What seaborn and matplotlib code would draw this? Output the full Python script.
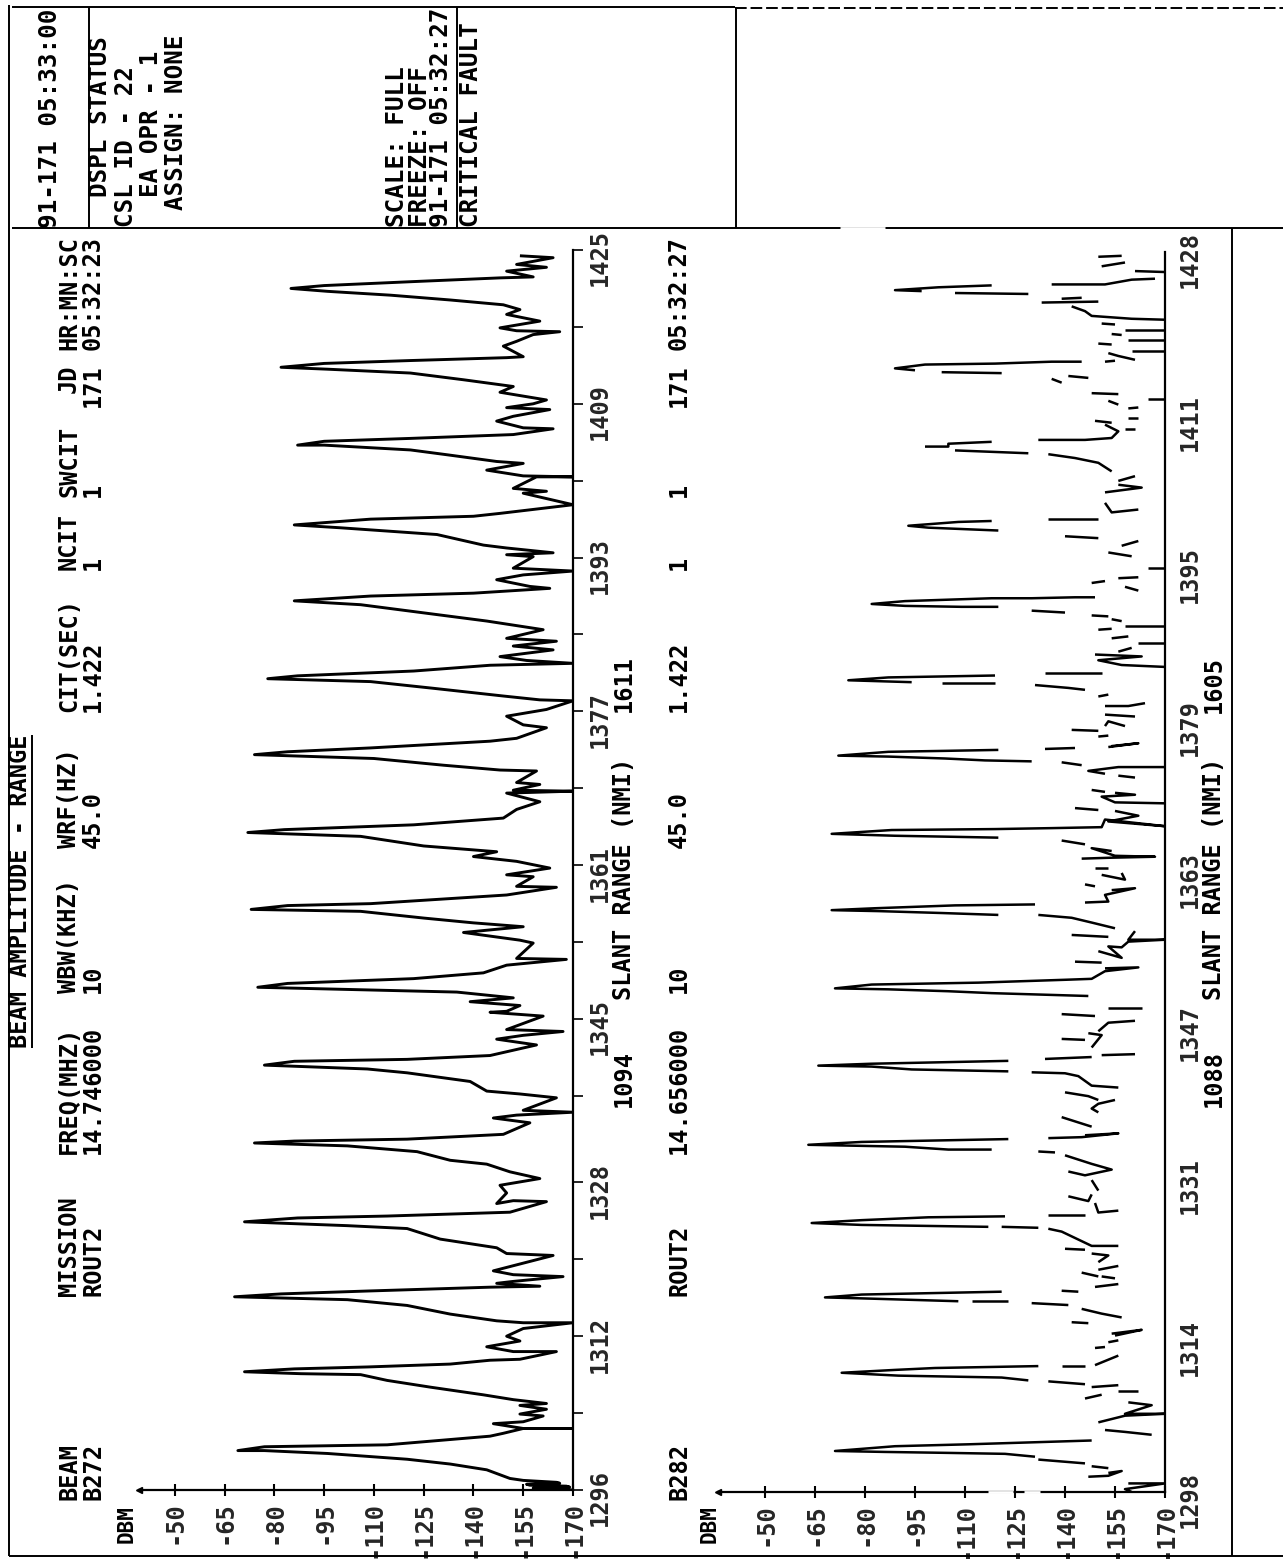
import numpy as np
import pandas as pd
import matplotlib
matplotlib.use("Agg")
import matplotlib.pyplot as plt
from matplotlib.transforms import ScaledTranslation
import seaborn as sns

nan = float("nan")

# ---------- data ----------
range1 = [
 1296.0,1296.1,1296.2,1296.3,1296.4,1296.5,1296.6,1296.7,1296.8,1297.0,1297.2,1298.1,1298.7,1299.2,1299.8,1300.1,1300.1,
 1300.5,1300.7,1301.6,1301.9,1302.4,1302.4,1302.4,1302.9,1303.1,1303.7,1303.9,1304.4,1304.8,1305.0,1305.4,1305.9,1306.7,1307.4,1308.0,1308.1,1308.3,
 1308.6,1308.8,1309.1,1309.5,1309.6,1310.4,1310.4,1310.9,1311.5,1312.0,1312.8,1313.4,1313.4,1313.6,1314.3,1315.2,1315.8,1316.1,
 1316.4,1316.7,1317.1,1317.2,1317.5,1317.7,1318.2,1318.4,1318.8,1320.4,1320.6,1321.2,1322.1,1323.2,1323.5,1323.9,
 1324.3,1324.5,1324.9,1326.0,1326.1,1325.8,1326.9,1327.7,1328.4,1329.1,1329.9,1330.3,1331.2,1331.8,1332.1,
 1332.3,1332.5,1333.0,1334.2,1334.7,1335.0,1335.3,1335.5,1336.8,1337.2,1337.5,1338.5,1339.4,1339.8,1340.2,
 1340.6,1340.8,1341.2,1342.3,1342.9,1343.3,1343.7,1343.9,1345.3,1345.7,1345.8,1346.4,1346.8,1347.2,1347.8,1348.3,
 1348.7,1349.2,1349.8,1350.6,1351.2,1351.3,1352.9,1353.2,1354.0,1354.6,1355.0,1355.5,1356.2,1356.4,
 1356.8,1357.0,1357.9,1358.7,1358.8,1359.8,1360.0,1360.7,1361.4,1361.9,1362.4,1363.0,1364.0,1364.4,
 1364.7,1365.2,1365.9,1366.8,1367.6,1368.5,1368.7,1368.8,1369.4,1369.6,1370.8,1370.9,1371.4,1372.1,1372.5,
 1372.8,1373.2,1373.9,1374.2,1375.3,1375.6,1376.5,1377.2,1378.1,1378.2,1378.6,1379.4,1380.1,1380.4,
 1380.7,1381.2,1381.8,1382.0,1382.3,1382.7,1383.4,1383.8,1384.3,1384.6,1385.5,1386.4,1387.2,1388.1,1388.5,
 1389.0,1389.3,1389.8,1390.0,1390.7,1391.2,1391.6,1391.9,1393.1,1393.3,1393.5,1394.0,1394.3,1395.4,1396.1,1396.4,
 1397.0,1397.3,1397.6,1398.5,1399.7,1399.9,1400.2,1401.4,1401.4,1401.5,1402.1,1402.8,1403.0,1403.7,1404.2,1404.7,1404.7,
 1405.1,1405.4,1405.8,1406.4,1406.5,1407.2,1407.7,1408.4,1408.6,1409.0,1409.4,1410.2,1410.8,1411.5,1412.2,1412.6,1412.8,
 1413.2,1413.5,1413.8,1413.9,1415.0,1415.5,1416.2,1416.5,1416.6,1416.9,1417.6,1418.3,1418.8,1419.3,1419.8,1420.3,1420.7,1421.0,
 1421.3,1421.7,1422.1,1422.2,1422.8,1423.2,1423.5,1424.2,1424.4,
]
dbm1 = [
 -170,-160,-158,-169,-168,-157,-156,-166,-165,-155,-151,-144,-133,-120,-96,-77,-69,
 -77,-114,-145,-149,-155,-170,-155,-146,-155,-161,-154,-162,-154,-162,-152,-143,-127,-114,-106,-88,-71,
 -86,-108,-133,-145,-154,-165,-152,-144,-154,-150,-155,-170,-155,-147,-133,-120,-102,-68,
 -82,-108,-145,-160,-147,-152,-167,-152,-146,-164,-150,-147,-130,-120,-102,-71,
 -87,-114,-151,-162,-152,-147,-150,-148,-160,-151,-144,-133,-123,-102,-74,
 -86,-120,-149,-157,-146,-153,-170,-155,-165,-154,-144,-139,-120,-108,-77,
 -86,-120,-145,-159,-147,-155,-167,-150,-161,-145,-150,-154,-139,-152,-135,-75,
 -84,-122,-143,-150,-168,-153,-158,-154,-137,-155,-140,-125,-106,-73,
 -84,-109,-150,-165,-153,-158,-150,-163,-153,-140,-147,-125,-106,-72,
 -83,-122,-149,-153,-160,-150,-170,-152,-160,-153,-159,-148,-131,-110,-74,
 -84,-109,-145,-153,-162,-155,-150,-162,-170,-160,-149,-128,-109,-78,
 -87,-122,-145,-170,-156,-148,-164,-152,-165,-150,-161,-144,-126,-106,-86,
 -109,-140,-163,-157,-147,-155,-170,-152,-158,-150,-164,-150,-143,-129,-100,-86,
 -109,-140,-148,-170,-155,-162,-152,-159,-170,-155,-144,-155,-147,-132,-121,-95,-87,
 -95,-121,-152,-164,-155,-147,-152,-163,-150,-158,-162,-148,-152,-137,-121,-96,-82,
 -95,-121,-150,-155,-149,-153,-158,-166,-153,-148,-160,-150,-154,-149,-133,-115,-96,-85,
 -95,-121,-148,-158,-150,-162,-153,-164,-154,
]

range2 = [
 1298.0,1298.3,1298.9,1298.9,nan,
 1299.6,1299.7,1300.2,1300.0,nan,
 1300.7,1300.5,nan,
 1301.0,1301.4,nan,
 1301.7,1302.0,1302.1,1302.2,1302.3,1302.8,1303.0,1303.4,nan,
 1304.5,1304.3,1304.0,nan,
 1305.3,1306.0,1306.2,1306.2,1307.1,1307.4,nan,
 1307.8,1308.2,nan,
 1308.6,1308.6,nan,
 1309.0,1309.2,nan,
 1309.3,1309.6,nan,
 1309.7,1310.0,1310.2,1310.5,1310.8,1311.0,1311.2,nan,
 1311.2,1311.2,nan,
 1312.3,1311.3,nan,
 1313.1,1313.2,nan,
 1313.7,1313.9,nan,
 1314.6,1315.0,1314.4,nan,
 1315.8,1315.7,nan,
 1316.3,1316.7,1317.2,nan,
 1317.6,1317.8,nan,
 1318.0,1318.0,nan,
 1318.0,1318.3,1318.4,1318.7,1319.0,nan,
 1319.1,1319.0,nan,
 1319.8,1319.5,nan,
 1320.6,1320.4,nan,
 1321.0,1320.6,nan,
 1321.3,1321.7,nan,
 1323.0,1322.8,1322.1,nan,
 1323.5,1323.4,nan,
 1323.8,1323.8,1325.3,1325.6,nan,
 1325.7,1325.8,nan,
 1325.8,1326.0,1326.2,1326.5,1326.8,1326.9,nan,
 1327.0,1327.0,nan,
 1327.5,1327.3,1328.3,nan,
 1329.0,1328.5,1329.2,nan,
 1329.6,1330.7,nan,
 1331.6,1331.2,1331.8,1332.4,1333.3,nan,
 1333.6,1333.7,nan,
 1333.9,1333.9,1334.2,1334.4,1334.7,1335.0,nan,
 1335.1,1335.2,1335.6,1335.4,nan,
 1336.3,1337.3,nan,
 1337.8,1338.2,1338.7,1339.1,nan,
 1339.9,1339.5,1339.1,nan,
 1340.4,1340.6,1341.6,1341.9,1342.0,nan,
 1342.1,1342.3,1342.6,1342.7,1342.9,1343.2,nan,
 1343.4,1343.6,nan,
 1343.9,1343.8,nan,
 1344.6,1345.9,1346.1,nan,
 1345.5,1345.4,nan,
 1347.4,1347.2,1346.3,nan,
 1348.1,1347.9,nan,
 1348.7,1348.7,nan,
 1350.0,1350.3,1350.5,1350.7,1350.8,1351.2,1351.4,1351.7,1351.8,1352.6,1353.0,1352.9,nan,
 1353.6,1353.5,nan,
 1354.7,1354.0,1355.2,1355.1,1355.7,1355.9,1355.9,1356.8,nan,
 1356.4,1356.2,nan,
 1357.1,1357.7,1358.2,1358.5,nan,
 1358.5,1358.7,1358.9,1359.0,1359.2,1359.5,1359.6,nan,
 1359.8,1359.9,1360.6,1361.3,1361.1,nan,
 1361.7,1361.5,nan,
 1362.7,1362.2,1362.9,nan,
 1363.4,1363.4,nan,
 1364.4,1364.5,1364.6,1364.7,1365.5,1365.2,nan,
 1366.3,1365.9,nan,
 1366.6,1366.7,1366.8,1367.0,1367.4,1367.5,1367.6,1367.7,1368.5,1367.8,1368.3,1368.9,1369.4,nan,
 1369.7,1369.5,nan,
 1370.2,1370.3,1370.9,1371.1,1371.3,nan,
 1371.6,1371.4,nan,
 1372.9,1373.1,nan,
 1374.0,1374.0,1373.6,1373.3,nan,
 1374.2,1374.5,nan,
 1374.6,1374.7,1374.9,1375.1,1375.2,1375.6,1375.7,1375.8,nan,
 1375.9,1376.0,nan,
 1376.1,1376.5,1376.2,nan,
 1377.2,1377.3,nan,
 1377.9,1377.8,nan,
 1378.3,1378.8,1378.3,nan,
 1379.3,1379.5,nan,
 1380.7,1380.4,1380.4,nan,
 1381.4,1381.6,nan,
 1382.1,1382.3,1382.6,nan,
 1382.8,1382.8,nan,
 1382.9,1383.1,1383.4,1383.6,nan,
 1383.9,1383.9,nan,
 1384.5,1384.7,1385.2,1385.6,1385.8,nan,
 1386.1,1386.5,nan,
 1387.0,1387.0,nan,
 1387.5,1387.7,nan,
 1388.4,1388.5,nan,
 1388.8,1388.8,nan,
 1389.5,1389.3,nan,
 1389.9,1389.8,nan,
 1390.2,1390.4,nan,
 1390.8,1390.8,1390.9,1391.1,1391.4,1391.7,1391.7,1391.8,1391.8,nan,
 1392.5,1392.9,nan,
 1393.3,1393.5,nan,
 1393.9,1393.8,nan,
 1394.9,1394.9,nan,
 1396.1,1396.5,nan,
 1397.7,1397.2,nan,
 1398.2,1398.0,nan,
 1398.8,1399.1,1399.3,1399.7,1399.8,nan,
 1400.0,1400.0,nan,
 1401.0,1400.7,1401.7,nan,
 1402.8,1403.3,1403.6,nan,
 1404.5,1404.0,nan,
 1405.0,1405.9,1406.4,1406.8,nan,
 1406.9,1407.2,nan,
 1407.6,1407.6,1407.9,1408.1,nan,
 1408.3,1408.3,1408.5,1409.2,1409.9,nan,
 1409.4,1409.4,nan,
 1410.3,1410.1,nan,
 1410.6,1410.6,nan,
 1411.7,1411.6,nan,
 1412.4,1412.0,nan,
 1413.2,1413.1,nan,
 1412.6,1412.6,nan,
 1414.8,1415.0,nan,
 1414.7,1414.3,nan,
 1415.3,1415.4,nan,
 1415.6,1415.8,1416.2,1416.3,1416.5,1416.5,nan,
 1416.5,1416.6,nan,
 1416.7,1417.1,1417.4,nan,
 1417.6,1417.6,nan,
 1418.4,1418.3,nan,
 1418.8,1418.8,nan,
 1419.4,1419.3,nan,
 1419.8,1419.8,nan,
 1420.5,1420.4,nan,
 1420.9,1421.0,1421.3,1421.8,1422.3,nan,
 1422.8,1422.7,nan,
 1423.1,1423.2,nan,
 1423.6,1423.7,nan,
 1423.9,1424.0,1424.3,1424.5,nan,
 1424.6,1424.6,1425.1,1425.2,nan,
 1425.9,1426.0,nan,
 1426.9,1426.5,nan,
 1427.6,1427.5,
]
dbm2 = [
 -160,-158,-170,-159,nan,
 -147,-153,-157,-153,nan,
 -148,-153,nan,
 -146,-132,nan,
 -131,-122,-105,-86,-71,-89,-111,-148,nan,
 -152,-158,-166,nan,
 -150,-158,-170,-158,-166,-159,nan,
 -146,-151,nan,
 -156,-162,nan,
 -148,-156,nan,
 -146,-135,nan,
 -129,-121,-90,-73,-89,-101,-132,nan,
 -139,-146,nan,
 -156,-149,nan,
 -149,-152,nan,
 -153,-156,nan,
 -154,-163,-155,nan,
 -142,-147,nan,
 -157,-151,-145,nan,
 -141,-130,nan,
 -123,-112,nan,
 -108,-79,-68,-79,-121,nan,
 -139,-144,nan,
 -156,-149,nan,
 -151,-155,nan,
 -145,-150,nan,
 -150,-156,nan,
 -148,-153,-150,nan,
 -140,-146,nan,
 -156,-148,-139,-135,nan,
 -132,-121,nan,
 -117,-79,-64,-79,-99,-122,nan,
 -135,-146,nan,
 -156,-150,-149,nan,
 -141,-147,-148,nan,
 -150,-148,nan,
 -141,-146,-154,-148,-140,nan,
 -137,-132,nan,
 -118,-105,-92,-63,-79,-123,nan,
 -135,-145,-156,-146,nan,
 -148,-139,nan,
 -150,-148,-150,-155,nan,
 -140,-147,-150,nan,
 -156,-148,-144,-140,-130,nan,
 -123,-94,-82,-66,-82,-123,nan,
 -134,-148,nan,
 -161,-151,nan,
 -148,-151,-147,nan,
 -139,-146,nan,
 -161,-153,-150,nan,
 -139,-149,nan,
 -163,-153,nan,
 -147,-118,-105,-87,-71,-82,-114,-140,-148,-152,-162,-152,nan,
 -143,-151,nan,
 -150,-157,-153,-157,-159,-170,-159,-161,nan,
 -142,-153,nan,
 -155,-148,-142,-132,nan,
 -120,-103,-84,-70,-83,-107,-131,nan,
 -146,-153,-152,-161,-154,nan,
 -146,-149,nan,
 -151,-158,-157,nan,
 -149,-153,nan,
 -145,-154,-167,-155,-148,-154,nan,
 -139,-146,nan,
 -120,-105,-89,-70,-88,-119,-136,-151,-152,-170,-153,-162,-155,nan,
 -143,-150,nan,
 -170,-155,-151,-161,-155,nan,
 -148,-152,nan,
 -161,-156,nan,
 -170,-156,-147,-152,nan,
 -145,-139,nan,
 -130,-116,-104,-87,-72,-87,-104,-120,nan,
 -134,-143,nan,
 -153,-162,-154,nan,
 -150,-153,nan,
 -142,-150,nan,
 -158,-153,-152,nan,
 -161,-152,nan,
 -164,-159,-152,nan,
 -150,-153,nan,
 -146,-141,-131,nan,
 -119,-103,nan,
 -94,-75,-87,-119,nan,
 -134,-151,nan,
 -170,-157,-150,-163,-149,nan,
 -156,-160,nan,
 -170,-162,nan,
 -154,-159,nan,
 -150,-154,nan,
 -170,-158,nan,
 -154,-157,nan,
 -148,-153,nan,
 -140,-130,nan,
 -120,-109,-92,-82,-92,-118,-130,-143,-149,nan,
 -162,-158,nan,
 -148,-152,nan,
 -162,-156,nan,
 -170,-165,nan,
 -160,-153,nan,
 -162,-157,nan,
 -140,-150,nan,
 -120,-99,-93,-108,-118,nan,
 -135,-150,nan,
 -162,-154,-152,nan,
 -152,-163,-156,nan,
 -161,-156,nan,
 -154,-150,-143,-135,nan,
 -129,-107,nan,
 -98,-105,-105,-118,nan,
 -132,-146,-154,-156,-152,nan,
 -161,-158,nan,
 -149,-154,nan,
 -162,-159,nan,
 -162,-159,nan,
 -153,-156,nan,
 -148,-156,nan,
 -170,-165,nan,
 -147,-141,nan,
 -136,-139,nan,
 -121,-103,nan,
 -95,-89,-98,-119,-136,-145,nan,
 -152,-155,nan,
 -161,-156,-153,nan,
 -170,-160,nan,
 -150,-154,nan,
 -170,-159,nan,
 -154,-157,nan,
 -170,-158,nan,
 -151,-155,nan,
 -170,-160,-148,-146,-142,nan,
 -150,-133,nan,
 -139,-145,nan,
 -129,-107,nan,
 -97,-89,-102,-118,nan,
 -136,-152,-160,-167,nan,
 -170,-161,nan,
 -158,-151,nan,
 -157,-150,
]

dbm_ticks = [-50, -65, -80, -95, -110, -125, -140, -155, -170]
dbm_labels = ["-50", "-65", "-80", "-95", "-110", "-125", "-140", "-155", "-170"]
range_ticks1 = [1296,1304,1312,1320,1328,1337,1345,1353,1361,1369,1377,1385,1393,1401,1409,1417,1425]
range_labels1 = ["1296","","1312","","1328","","1345","","1361","","1377","","1393","","1409","","1425"]
range_ticks2 = [1298,1306,1314,1322,1331,1339,1347,1355,1363,1371,1379,1387,1395,1403,1411,1419,1428]
range_labels2 = ["1298","","1314","","1331","","1347","","1363","","1379","","1395","","1411","","1428"]

column_names = ["BEAM", "MISSION", "FREQ(MHZ)", "WBW(KHZ)", "WRF(HZ)", "CIT(SEC)", "NCIT", "SWCIT", "JD", "HR:MN:SC"]
column_row1 = ["B272", "ROUT2", "14.746000", "10", "45.0", "1.422", "1", "1", "171", "05:32:23"]
column_row2 = ["B282", "ROUT2", "14.656000", "10", "45.0", "1.422", "1", "1", "171", "05:32:27"]
status_lines = ["91-171 05:33:00", "DSPL STATUS", "CSL ID - 22", "EA OPR - 1", "ASSIGN: NONE",
                "SCALE: FULL", "FREEZE: OFF", "91-171 05:32:27", "CRITICAL FAULT"]

# ---------- layout (pixels of the 1283x1559 page) ----------
W, H = 1283, 1559
name_bottom = [1500, 1296, 1154, 993, 848, 712, 570, 497, 393, 350]
row_bottom = [1500, 1296, 1154, 993, 848, 712, 570, 497, 407, 350]
status_x = [50, 100, 126, 151, 176, 397, 420, 441, 471]
status_bottom = [228, 197, 227, 197, 210, 227, 227, 227, 227]

sns.set_theme(style="white")
plt.rcParams["font.family"] = ["DejaVu Sans Mono"]
plt.rcParams["font.weight"] = "bold"

fig = plt.figure(figsize=(W / 100, H / 100), dpi=100, facecolor="white")


def page_axes(left, right, top, bottom):
    return fig.add_axes([left / W, 1 - bottom / H, (right - left) / W, (bottom - top) / H])


page = fig.add_axes([0, 0, 1, 1], zorder=5)
page.set_xlim(0, W)
page.set_ylim(H, 0)
page.axis("off")
page.patch.set_alpha(0)


def draw_panel(ax, rng, dbm, xlim, ylim, rticks, rlabels, rlen, lw, rpad):
    df = pd.DataFrame({"range": rng, "dbm": dbm})
    df["seg"] = df["dbm"].isna().cumsum()
    df = df.dropna()
    sns.lineplot(data=df, x="dbm", y="range", units="seg", estimator=None, sort=False,
                 color="black", linewidth=lw, legend=False, ax=ax, solid_capstyle="butt")
    ax.set_xlim(*xlim)
    ax.set_ylim(*ylim)
    ax.set_xlabel("")
    ax.set_ylabel("")
    ax.patch.set_alpha(0)
    for s in ("top", "left"):
        ax.spines[s].set_visible(False)
    for s in ("bottom", "right"):
        ax.spines[s].set_linewidth(1.6)
        ax.spines[s].set_color("black")
    ax.set_xticks(dbm_ticks)
    ax.set_xticklabels(dbm_labels, rotation=90, fontsize=17, fontweight="bold")
    ax.tick_params(axis="x", bottom=True, direction="inout", length=8, width=1.5, pad=4, color="black")
    ax.yaxis.tick_right()
    ax.set_yticks(rticks)
    ax.set_yticklabels(rlabels, rotation=90, va="center", fontsize=17, fontweight="bold")
    ax.tick_params(axis="y", right=True, direction="out", length=rlen, width=1.2, pad=rpad, color="black")
    shift = ScaledTranslation(0, -8 / 100, fig.dpi_scale_trans)
    for lab in ax.get_yticklabels():
        lab.set_transform(lab.get_transform() + shift)
    ax.plot(0, 0, marker="<", ms=4, color="black", transform=ax.transAxes, clip_on=False)


ax1 = page_axes(139, 573, 250, 1490)
draw_panel(ax1, range1, dbm1, (-39.2, -170), (1296, 1425), range_ticks1, range_labels1, 7, 2.1, 3.5)
ax2 = page_axes(718, 1165, 252, 1492)
draw_panel(ax2, range2, dbm2, (-35.9, -170), (1298, 1428), range_ticks2, range_labels2, 0, 1.8, 9)


def vtext(x, y, s, size=17):
    page.text(x, y, s, rotation=90, ha="center", va="bottom", fontsize=size,
              fontweight="bold", color="black", family="DejaVu Sans Mono")


for nm, rw, rw2, yn, yr in zip(column_names, column_row1, column_row2, name_bottom, row_bottom):
    vtext(69, yn, nm)
    vtext(93, yr, rw)
    vtext(679, yr, rw2)

vtext(20, 1048, "BEAM AMPLITUDE - RANGE", 17)
vtext(127, 1543, "DBM", 15)
vtext(710, 1543, "DBM", 15)
vtext(624, 1000, "SLANT RANGE (NMI)")
vtext(1214, 1000, "SLANT RANGE (NMI)")
vtext(624, 1107, "1094")
vtext(624, 712, "1611")
vtext(1214, 1107, "1088")
vtext(1214, 713, "1605")

for x, y, s in zip(status_x, status_bottom, status_lines):
    vtext(x, y, s, 17.5)

# page frame
frame = [
    ((9, 9), (5, 1556), "-", "black"),
    ((9, 1283), (1556, 1556), "-", "black"),
    ((12, 1283), (228, 228), "-", "black"),
    ((12, 735), (7, 7), "-", "black"),
    ((735, 1283), (8, 8), (0, (6, 2)), "black"),
    ((89, 89), (7, 228), "-", "black"),
    ((457, 457), (7, 228), "-", "black"),
    ((736, 736), (7, 228), "-", "black"),
    ((1232, 1232), (228, 1556), "-", "black"),
    ((32, 32), (735, 1048), "-", "black"),
    # gaps where the scan lost the line
    ((840, 885), (228, 228), "-", "white"),
    ((988, 1013), (1492, 1492), "-", "white"),
    ((1024, 1040), (1492, 1492), "-", "white"),
]
for xs, ys, ls, col in frame:
    page.plot(xs, ys, color=col, lw=2.0 if col == "white" else 1.4, ls=ls, solid_capstyle="butt")

fig.savefig("out.png", dpi=100, facecolor="white")
